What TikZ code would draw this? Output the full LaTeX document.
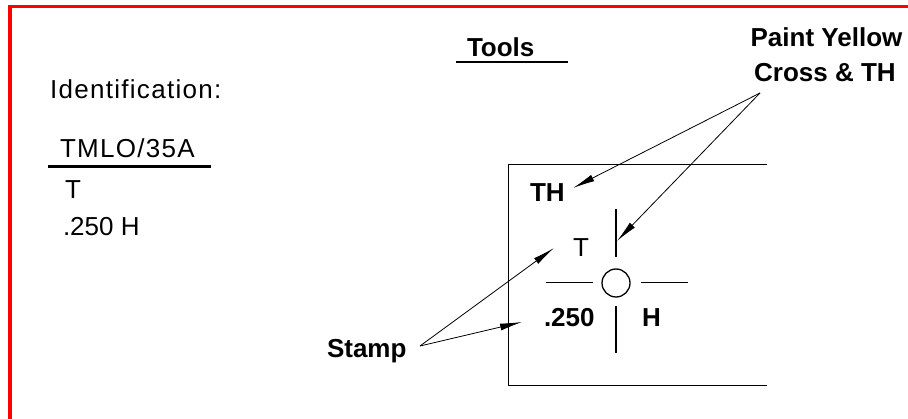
\documentclass[tikz,border=0pt]{standalone}
\usepackage{fontspec}
\setmainfont{Liberation Sans}
\newfontfamily\spacedfont[LetterSpace=5]{Liberation Sans}
\usetikzlibrary{arrows.meta}
\begin{document}
\begin{tikzpicture}[x=1pt,y=-1pt,
  txt/.style={inner sep=0pt,outer sep=0pt,anchor=base west,font=\fontsize{26}{31}\selectfont},
  btxt/.style={txt,font=\fontsize{26}{31}\selectfont\bfseries},
  stxt/.style={txt,font=\fontsize{26}{31}\selectfont\spacedfont},
  conn/.style={line width=0.8pt,-{Latex[length=22pt,width=7pt]}},
  thin/.style={line width=1pt},
  thick/.style={line width=1.8pt}]
\useasboundingbox (0,0) rectangle (908,419);
\fill[white] (0,0) rectangle (908,419);
% red frame (top and left)
\draw[red,line width=3.5pt] (10,419) -- (10,6.5) -- (908,6.5);
% left text block
\node[stxt] (ident) at (50,99) {Identification:};
\node[stxt] (tmlo) at (60,158) {TMLO/35A};
\draw[line width=2.6pt] (48,166.7) -- (211,166.7);
\node[txt] (tleft) at (65,199) {T};
\node[txt] (hleft) at (63,236) {.250 H};
% tools
\node[btxt] (tools) at (467,56.5) {Tools};
\draw[line width=2pt] (456,62.3) -- (568,62.3);
% paint label
\node[btxt,anchor=base] (paint1) at (826.5,47) {Paint Yellow};
\node[btxt,anchor=base] (paint2) at (825,81.5) {Cross \& TH};
% box (open on right)
\draw[thin] (767,165) -- (508,165) -- (508,386) -- (767,386);
% texts in box
\node[btxt] (th) at (530,202) {TH};
\node[txt] (tbox) at (573,257) {T};
\node[btxt] (num) at (544,327) {.250};
\node[btxt] (hbox) at (642,327) {H};
% cross with circle
\node[draw,circle,line width=1.3pt,minimum size=28pt,inner sep=0pt] (hole) at (616,283) {};
\draw[thin] (546,283) -- (593,283);
\draw[thin] (641,283) -- (688,283);
\draw[thick] (616,209) -- (616,257);
\draw[thick] (616,306) -- (616,353);
% stamp label
\node[btxt] (stamp) at (327,358) {Stamp};
% connector coordinates
\coordinate (ps) at (760,93);
\coordinate (pth) at (573,188);
\coordinate (pv) at (617,241);
\coordinate (ss) at (420,346);
\coordinate (st) at (554,248);
\coordinate (sn) at (522,322);
\draw[conn] (ps) -- (pth);
\draw[conn] (ps) -- (pv);
\draw[conn] (ss) -- (st);
\draw[conn] (ss) -- (sn);
\end{tikzpicture}
\end{document}
